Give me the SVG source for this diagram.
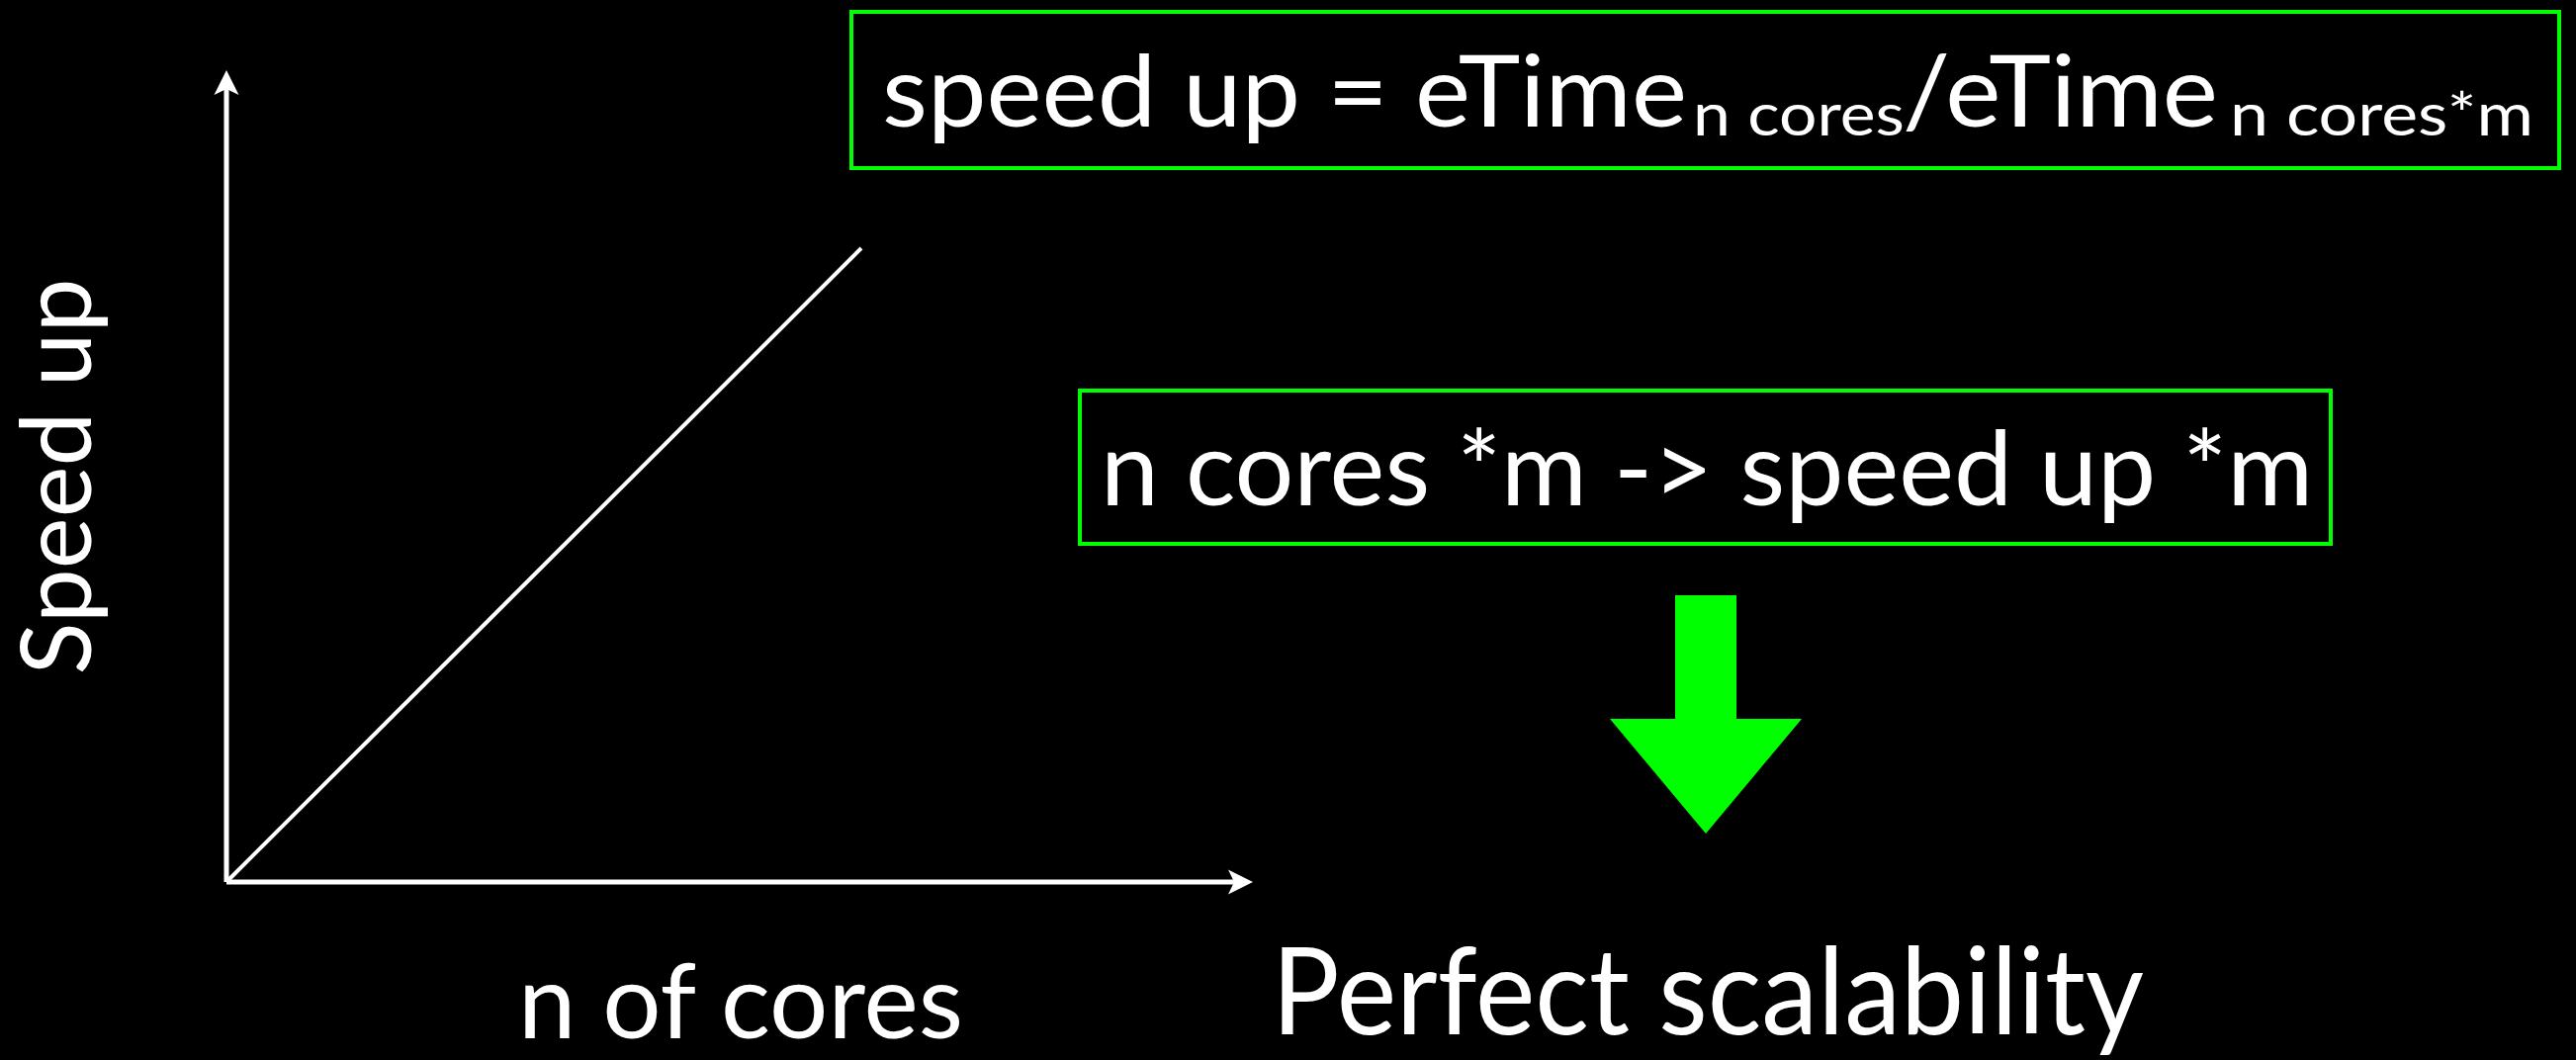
<svg xmlns="http://www.w3.org/2000/svg" width="2605" height="1072" viewBox="0 0 2605 1072">
<style>
.t{font-family:Lato,"Open Sans","Liberation Sans",sans-serif;fill:#ffffff}
.box{fill:none;stroke:#00ff00;stroke-width:4}
.axis{stroke:#ffffff;stroke-width:5;fill:none}
</style>
<defs>
<marker id="ah" markerUnits="userSpaceOnUse" markerWidth="26" markerHeight="26" refX="8" refY="12.5" orient="auto" overflow="visible">
<path d="M0,0 L25,12.5 L0,25 L6,12.5 Z" fill="#ffffff"/>
</marker>
</defs>
<rect x="0" y="0" width="2605" height="1072" fill="#000000"/>
<g id="connectors">
<line class="axis" x1="229" y1="892" x2="229" y2="88" marker-end="url(#ah)"/>
<line class="axis" x1="229" y1="892" x2="1250" y2="892" marker-end="url(#ah)"/>
<line x1="229" y1="892" x2="871" y2="251" stroke="#ffffff" stroke-width="4"/>
</g>
<g id="ylabel">
<text class="t" font-size="98" text-anchor="middle" transform="translate(92,482) rotate(-90)" textLength="401" lengthAdjust="spacingAndGlyphs">Speed up</text>
</g>
<g id="xlabel">
<text class="t" x="524" y="1050" font-size="104" textLength="450" lengthAdjust="spacingAndGlyphs">n of cores</text>
</g>
<g id="formula">
<rect class="box" x="861" y="12" width="1727" height="158"/>
<text class="t" y="128" font-size="100"><tspan x="892" textLength="814" lengthAdjust="spacingAndGlyphs">speed up = eTime</tspan><tspan x="1712" y="137" font-size="60" textLength="214" lengthAdjust="spacingAndGlyphs">n cores</tspan><tspan x="1924" y="128" textLength="319" lengthAdjust="spacingAndGlyphs">/eTime</tspan><tspan x="2255" y="137" font-size="60" textLength="307" lengthAdjust="spacingAndGlyphs">n cores*m</tspan></text>
</g>
<g id="rule">
<rect class="box" x="1092" y="395" width="1265" height="155"/>
<text class="t" x="1113" y="511" font-size="104" textLength="1226" lengthAdjust="spacingAndGlyphs">n cores *m -&gt; speed up *m</text>
</g>
<g id="down-arrow">
<polygon points="1694,602 1756,602 1756,727 1822,727 1725,843 1628,727 1694,727" fill="#00ff00"/>
</g>
<g id="result">
<text class="t" x="1286" y="1046" font-size="122" textLength="882" lengthAdjust="spacingAndGlyphs">Perfect scalability</text>
</g>
</svg>
